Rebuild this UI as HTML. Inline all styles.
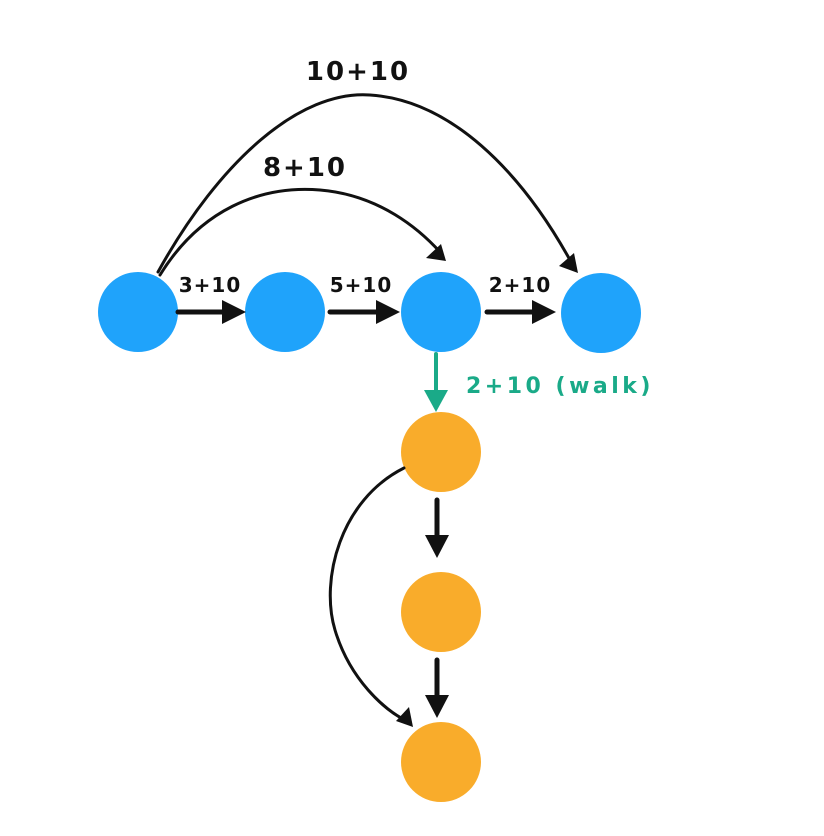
<!DOCTYPE html>
<html><head><style>body{margin:0;background:#fff}svg{display:block}</style></head><body>
<svg width="824" height="836" viewBox="0 0 824 836" xmlns="http://www.w3.org/2000/svg">
<g fill="#1fa3fb">
<circle cx="138" cy="312" r="40"/><circle cx="285" cy="312" r="40"/><circle cx="441" cy="312" r="40"/><circle cx="601" cy="313" r="40"/>
</g>
<g fill="#f9ac2b">
<circle cx="441" cy="452" r="40"/><circle cx="441" cy="612" r="40"/><circle cx="441" cy="762" r="40"/>
</g>
<g stroke="#111" stroke-width="5" fill="none" stroke-linecap="round">
<path d="M178 312 L225 312"/><path d="M330 312 L377 312"/><path d="M487 312 L533 312"/>
<path d="M437 500 L437 535"/><path d="M437 660 L437 695"/>
<path d="M158 272 C220 160 300 90 370 95 C450 100 520 170 570 260" stroke-width="3"/>
<path d="M160 275 C200 210 260 185 320 190 C380 195 420 230 440 252" stroke-width="3"/>
<path d="M404 468 C340 500 320 580 335 630 C350 680 385 710 405 720" stroke-width="3"/>
</g>
<g fill="#111">
<polygon points="246,312 222,300 222,324"/>
<polygon points="400,312 376,300 376,324"/>
<polygon points="556,312 532,300 532,324"/>
<polygon points="437,558 425,535 449,535"/>
<polygon points="437,718 425,695 449,695"/>
<polygon points="446,261 426,258 441,244"/>
<polygon points="578,273 559,266 574,253"/>
<polygon points="413,727 396,721 409,707"/>
</g>
<path d="M436 354 L436 392" stroke="#1aaa88" stroke-width="4" stroke-linecap="round"/>
<polygon points="436,412 424,390 448,390" fill="#1aaa88"/>
<g font-family="'Comic Sans MS','DejaVu Sans',sans-serif" font-weight="bold" fill="#111">
<text x="358" y="80" font-size="26" text-anchor="middle" letter-spacing="2">10+10</text>
<text x="305" y="176" font-size="26" text-anchor="middle" letter-spacing="2">8+10</text>
<text x="210" y="292" font-size="20" text-anchor="middle" letter-spacing="1">3+10</text>
<text x="361" y="292" font-size="20" text-anchor="middle" letter-spacing="1">5+10</text>
<text x="520" y="292" font-size="20" text-anchor="middle" letter-spacing="1">2+10</text>
<text x="466" y="393" font-size="22" fill="#1aaa88" letter-spacing="3.5">2+10 (walk)</text>
</g>
</svg>
</body></html>
